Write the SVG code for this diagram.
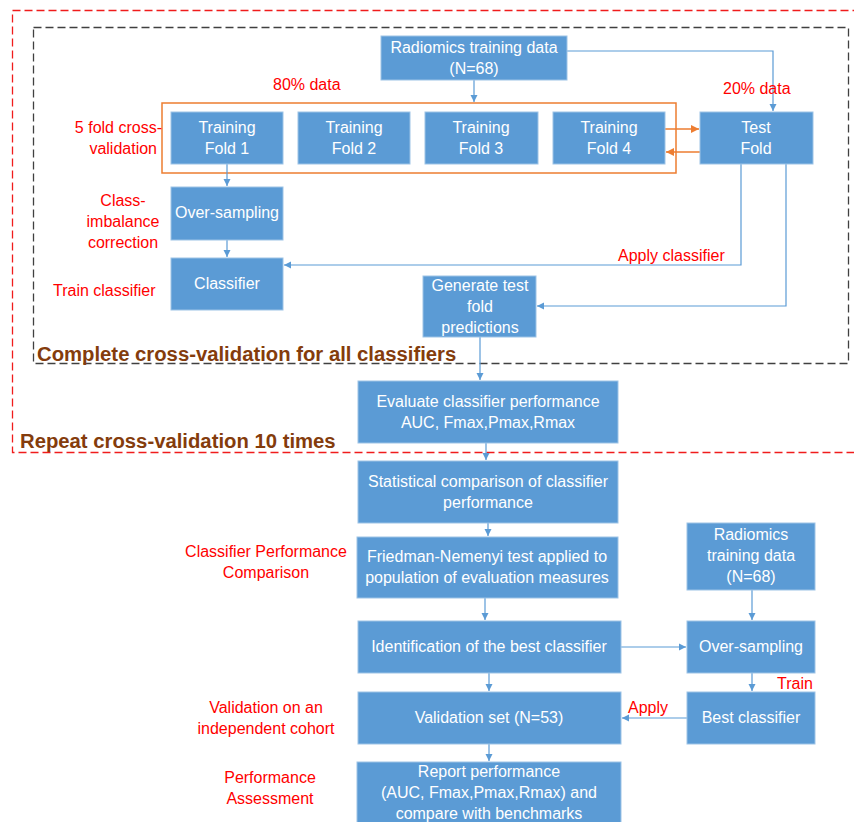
<svg xmlns="http://www.w3.org/2000/svg" width="854" height="822" viewBox="0 0 854 822">
<defs>
<style>
.box{fill:#5B9BD5;stroke:#9DC3E6;stroke-width:1}
.bt{font-family:"Liberation Sans",Arial,sans-serif;font-size:16px;fill:#FFFFFF;text-anchor:middle}
.rl{font-family:"Liberation Sans",Arial,sans-serif;font-size:16px;fill:#FF0000}
.ttl{font-family:"Liberation Sans",Arial,sans-serif;font-size:20.3px;font-weight:bold;fill:#843C0C}
.c{fill:none;stroke:#5B9BD5;stroke-width:1.2}
.o{fill:none;stroke:#ED7D31;stroke-width:1.5}
</style>
<marker id="ab" markerWidth="8" markerHeight="8" refX="7" refY="4" orient="auto" markerUnits="userSpaceOnUse"><path d="M0,0.5 L7,4 L0,7.5 Z" fill="#5B9BD5"/></marker>
<marker id="ao" markerWidth="9" markerHeight="9" refX="8" refY="4.5" orient="auto" markerUnits="userSpaceOnUse"><path d="M0,0.5 L8,4.5 L0,8.5 Z" fill="#ED7D31"/></marker>
</defs>
<rect width="854" height="822" fill="#FFFFFF"/>
<g id="frames">
<rect x="12.5" y="10.5" width="860" height="442" fill="none" stroke="#F01C1C" stroke-width="1.3" stroke-dasharray="8,4"/>
<rect x="33.5" y="27.5" width="815" height="336" fill="none" stroke="#404040" stroke-width="1.3" stroke-dasharray="8,4"/>
<rect x="162" y="103" width="514" height="70" fill="none" stroke="#ED7D31" stroke-width="1.5"/>
<text class="ttl" x="37" y="361">Complete cross-validation for all classifiers</text>
<text class="ttl" x="20" y="448">Repeat cross-validation 10 times</text>
</g>
<g id="connectors">
<path class="c" d="M474,80 V102" marker-end="url(#ab)"/>
<path class="c" d="M567,51 H773 V111" marker-end="url(#ab)"/>
<path class="o" d="M665,129 H699" marker-end="url(#ao)"/>
<path class="o" d="M700,152 H666" marker-end="url(#ao)"/>
<path class="c" d="M227,164 V186" marker-end="url(#ab)"/>
<path class="c" d="M227,240 V257" marker-end="url(#ab)"/>
<path class="c" d="M741,164 V265 H284" marker-end="url(#ab)"/>
<path class="c" d="M786,164 V306 H537" marker-end="url(#ab)"/>
<path class="c" d="M480,337 V380" marker-end="url(#ab)"/>
<path class="c" d="M486,443 V460" marker-end="url(#ab)"/>
<path class="c" d="M488,523 V536" marker-end="url(#ab)"/>
<path class="c" d="M485,598 V620" marker-end="url(#ab)"/>
<path class="c" d="M621,647 H686" marker-end="url(#ab)"/>
<path class="c" d="M752,590 V620" marker-end="url(#ab)"/>
<path class="c" d="M489,673 V691" marker-end="url(#ab)"/>
<path class="c" d="M752,673 V691" marker-end="url(#ab)"/>
<path class="c" d="M687,718 H622" marker-end="url(#ab)"/>
<path class="c" d="M489,744 V761" marker-end="url(#ab)"/>
</g>
<g id="labels">
<text class="rl" x="273" y="90">80% data</text>
<text class="rl" x="723" y="94">20% data</text>
<text class="rl" x="162" y="133" text-anchor="end">5 fold cross-</text>
<text class="rl" x="157" y="154" text-anchor="end">validation</text>
<text class="rl" x="123" y="206" text-anchor="middle">Class-</text>
<text class="rl" x="123" y="227" text-anchor="middle">imbalance</text>
<text class="rl" x="123" y="248" text-anchor="middle">correction</text>
<text class="rl" x="53" y="296">Train classifier</text>
<text class="rl" x="618" y="261">Apply classifier</text>
<text class="rl" x="266" y="557" text-anchor="middle">Classifier Performance</text>
<text class="rl" x="266" y="578" text-anchor="middle">Comparison</text>
<text class="rl" x="266" y="713" text-anchor="middle">Validation on an</text>
<text class="rl" x="266" y="734" text-anchor="middle">independent cohort</text>
<text class="rl" x="270" y="783" text-anchor="middle">Performance</text>
<text class="rl" x="270" y="804" text-anchor="middle">Assessment</text>
<text class="rl" x="777" y="689">Train</text>
<text class="rl" x="628" y="713">Apply</text>
</g>
<g id="n-radiomics"><rect class="box" x="381" y="36" width="186" height="44"/><text class="bt" x="474" y="53">Radiomics training data</text><text class="bt" x="474" y="74">(N=68)</text></g>
<g id="n-fold1"><rect class="box" x="171" y="112" width="112" height="52"/><text class="bt" x="227" y="133">Training</text><text class="bt" x="227" y="154">Fold 1</text></g>
<g id="n-fold2"><rect class="box" x="298" y="112" width="112" height="52"/><text class="bt" x="354" y="133">Training</text><text class="bt" x="354" y="154">Fold 2</text></g>
<g id="n-fold3"><rect class="box" x="425" y="112" width="113" height="52"/><text class="bt" x="481" y="133">Training</text><text class="bt" x="481" y="154">Fold 3</text></g>
<g id="n-fold4"><rect class="box" x="553" y="112" width="112" height="52"/><text class="bt" x="609" y="133">Training</text><text class="bt" x="609" y="154">Fold 4</text></g>
<g id="n-test"><rect class="box" x="700" y="112" width="113" height="52"/><text class="bt" x="756" y="133">Test</text><text class="bt" x="756" y="154">Fold</text></g>
<g id="n-oversampling1"><rect class="box" x="171" y="187" width="112" height="53"/><text class="bt" x="227" y="218">Over-sampling</text></g>
<g id="n-classifier"><rect class="box" x="171" y="258" width="112" height="52"/><text class="bt" x="227" y="289">Classifier</text></g>
<g id="n-generate"><rect class="box" x="423" y="276" width="113" height="61"/><text class="bt" x="480" y="291">Generate test</text><text class="bt" x="480" y="312">fold</text><text class="bt" x="480" y="333">predictions</text></g>
<g id="n-evaluate"><rect class="box" x="358" y="381" width="260" height="62"/><text class="bt" x="488" y="407">Evaluate classifier performance</text><text class="bt" x="488" y="428">AUC, Fmax,Pmax,Rmax</text></g>
<g id="n-statistical"><rect class="box" x="358" y="461" width="260" height="62"/><text class="bt" x="488" y="487">Statistical comparison of classifier</text><text class="bt" x="488" y="508">performance</text></g>
<g id="n-friedman"><rect class="box" x="357" y="537" width="261" height="61"/><text class="bt" x="487" y="562">Friedman-Nemenyi test applied to</text><text class="bt" x="487" y="583">population of evaluation measures</text></g>
<g id="n-radiomics2"><rect class="box" x="687" y="523" width="128" height="67"/><text class="bt" x="751" y="540">Radiomics</text><text class="bt" x="751" y="561">training data</text><text class="bt" x="751" y="582">(N=68)</text></g>
<g id="n-identification"><rect class="box" x="358" y="621" width="263" height="52"/><text class="bt" x="489" y="652">Identification of the best classifier</text></g>
<g id="n-oversampling2"><rect class="box" x="687" y="621" width="128" height="52"/><text class="bt" x="751" y="652">Over-sampling</text></g>
<g id="n-validation"><rect class="box" x="358" y="692" width="263" height="52"/><text class="bt" x="489" y="723">Validation set (N=53)</text></g>
<g id="n-best"><rect class="box" x="687" y="692" width="128" height="52"/><text class="bt" x="751" y="723">Best classifier</text></g>
<g id="n-report"><rect class="box" x="357" y="762" width="264" height="70"/><text class="bt" x="489" y="777">Report performance</text><text class="bt" x="489" y="798">(AUC, Fmax,Pmax,Rmax) and</text><text class="bt" x="489" y="819">compare with benchmarks</text></g>
</svg>
